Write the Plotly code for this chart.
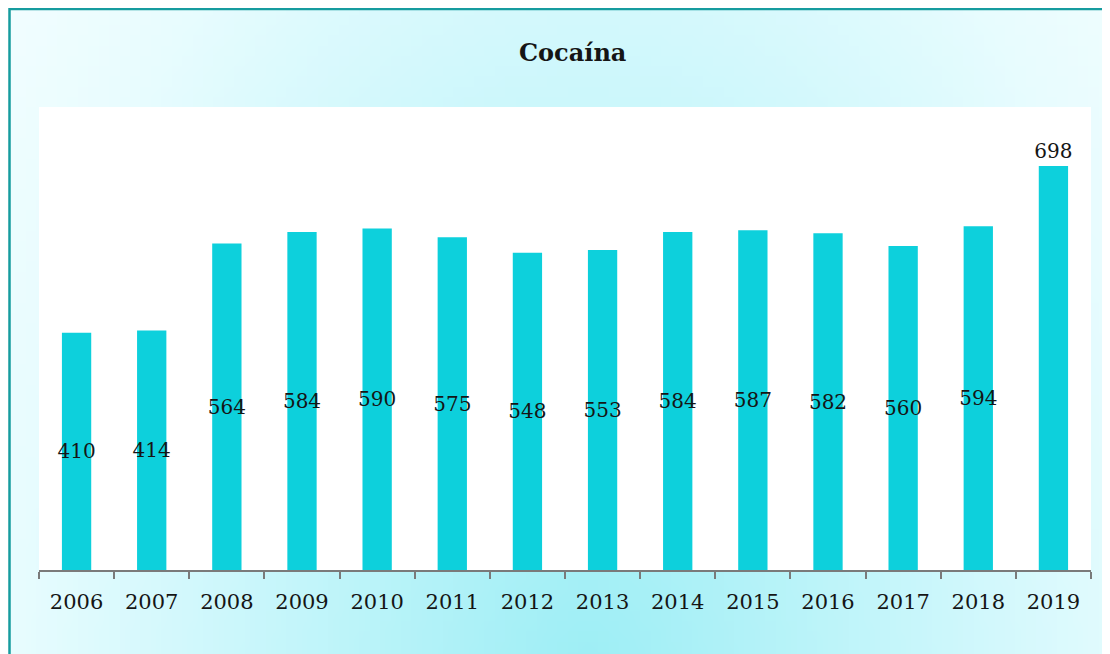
import base64
import math
import struct
import zlib

import plotly.graph_objects as go

# ---- data ----
years = ["2006", "2007", "2008", "2009", "2010", "2011", "2012",
         "2013", "2014", "2015", "2016", "2017", "2018", "2019"]
values = [410, 414, 564, 584, 590, 575, 548, 553, 584, 587, 582, 560, 594, 698]
title_text = "Cocaína"

# the page body adds an 8px margin around the figure
OFF = 8
W, H = 1110 - OFF, 654 - OFF
FONT = "DejaVu Serif"
BAR_COLOR = "#0DD0DC"

# plot area in screen pixels
PL, PR, PT, PB = 39, 1091, 107, 570


# ---- background gradient image (pure python PNG) ----
def png_data_uri(w, h, pixel_fn):
    rows = []
    for y in range(h):
        row = bytearray(b"\x00")
        for x in range(w):
            row.extend(pixel_fn(x, y))
        rows.append(bytes(row))
    raw = b"".join(rows)

    def chunk(tag, data):
        c = struct.pack(">I", len(data)) + tag + data
        return c + struct.pack(">I", zlib.crc32(tag + data) & 0xFFFFFFFF)

    png = (b"\x89PNG\r\n\x1a\n"
           + chunk(b"IHDR", struct.pack(">IIBBBBB", w, h, 8, 2, 0, 0, 0))
           + chunk(b"IDAT", zlib.compress(raw, 9))
           + chunk(b"IEND", b""))
    return "data:image/png;base64," + base64.b64encode(png).decode()


stops = [(0.0, (157, 238, 245)), (0.7, (210, 248, 252)),
         (1.0, (232, 252, 254)), (1.3, (244, 254, 255))]


def grad_color(t):
    if t <= stops[0][0]:
        return stops[0][1]
    for (t0, c0), (t1, c1) in zip(stops, stops[1:]):
        if t <= t1:
            f = (t - t0) / (t1 - t0)
            return tuple(int(round(a + (b - a) * f)) for a, b in zip(c0, c1))
    return stops[-1][1]


GW, GH = 111, 66


def pix(x, y):
    u = x / (GW - 1)
    v = y / (GH - 1)
    dx = (u - 0.5) / 0.5
    dy = (1 - v) / 1.4
    return grad_color(math.sqrt(dx * dx + dy * dy))


bg_uri = png_data_uri(GW, GH, pix)


def px_x(x):
    return (x - OFF) / W


def px_y(y):
    return 1 - (y - OFF) / H


fig = go.Figure()
fig.add_trace(go.Bar(
    x=years,
    y=values,
    marker=dict(color=BAR_COLOR, line=dict(width=0)),
    text=[str(v) for v in values],
    textposition=["inside"] * (len(values) - 1) + ["outside"],
    insidetextanchor="middle",
    textangle=0,
    constraintext="none",
    cliponaxis=False,
    textfont=dict(family=FONT, size=20, color="#151515"),
    hoverinfo="x+y",
))

frame_x0, frame_y0 = 9.5, 9

fig.update_layout(
    width=W,
    height=H,
    margin=dict(l=0, r=0, t=0, b=0, pad=0),
    paper_bgcolor="white",
    plot_bgcolor="white",
    bargap=0.61,
    showlegend=False,
    xaxis=dict(
        domain=[px_x(PL), px_x(PR)],
        type="category",
        showline=True,
        linecolor="#7a7a7a",
        linewidth=2,
        ticks="outside",
        tickson="boundaries",
        ticklen=7,
        tickwidth=2,
        tickcolor="#7a7a7a",
        showgrid=False,
        zeroline=False,
        tickfont=dict(family=FONT, size=21, color="#151515"),
        ticklabelstandoff=12,
        automargin=False,
        fixedrange=True,
    ),
    yaxis=dict(
        domain=[px_y(PB), px_y(PT)],
        range=[0, 800],
        visible=False,
        showgrid=False,
        zeroline=False,
        automargin=False,
        fixedrange=True,
    ),
    images=[dict(
        source=bg_uri,
        xref="paper", yref="paper",
        x=px_x(frame_x0), y=px_y(frame_y0),
        sizex=1.05, sizey=1.05,
        xanchor="left", yanchor="top",
        sizing="stretch",
        layer="below",
    )],
    shapes=[
        # white plot area
        dict(type="rect", xref="x domain", yref="y domain",
             x0=0, x1=1, y0=0, y1=1,
             fillcolor="white", line=dict(width=0), layer="below"),
        # teal frame
        dict(type="rect", xref="paper", yref="paper",
             x0=px_x(frame_x0), x1=1.05, y0=-0.05, y1=px_y(frame_y0),
             line=dict(color="#169C9F", width=2.5), layer="above"),
    ],
    annotations=[dict(
        text="<b>" + title_text + "</b>",
        xref="paper", yref="paper",
        x=px_x(572), y=px_y(52),
        xanchor="center", yanchor="middle",
        showarrow=False,
        font=dict(family=FONT, size=24, color="#151515"),
    )],
)

fig.write_html("out.html")
